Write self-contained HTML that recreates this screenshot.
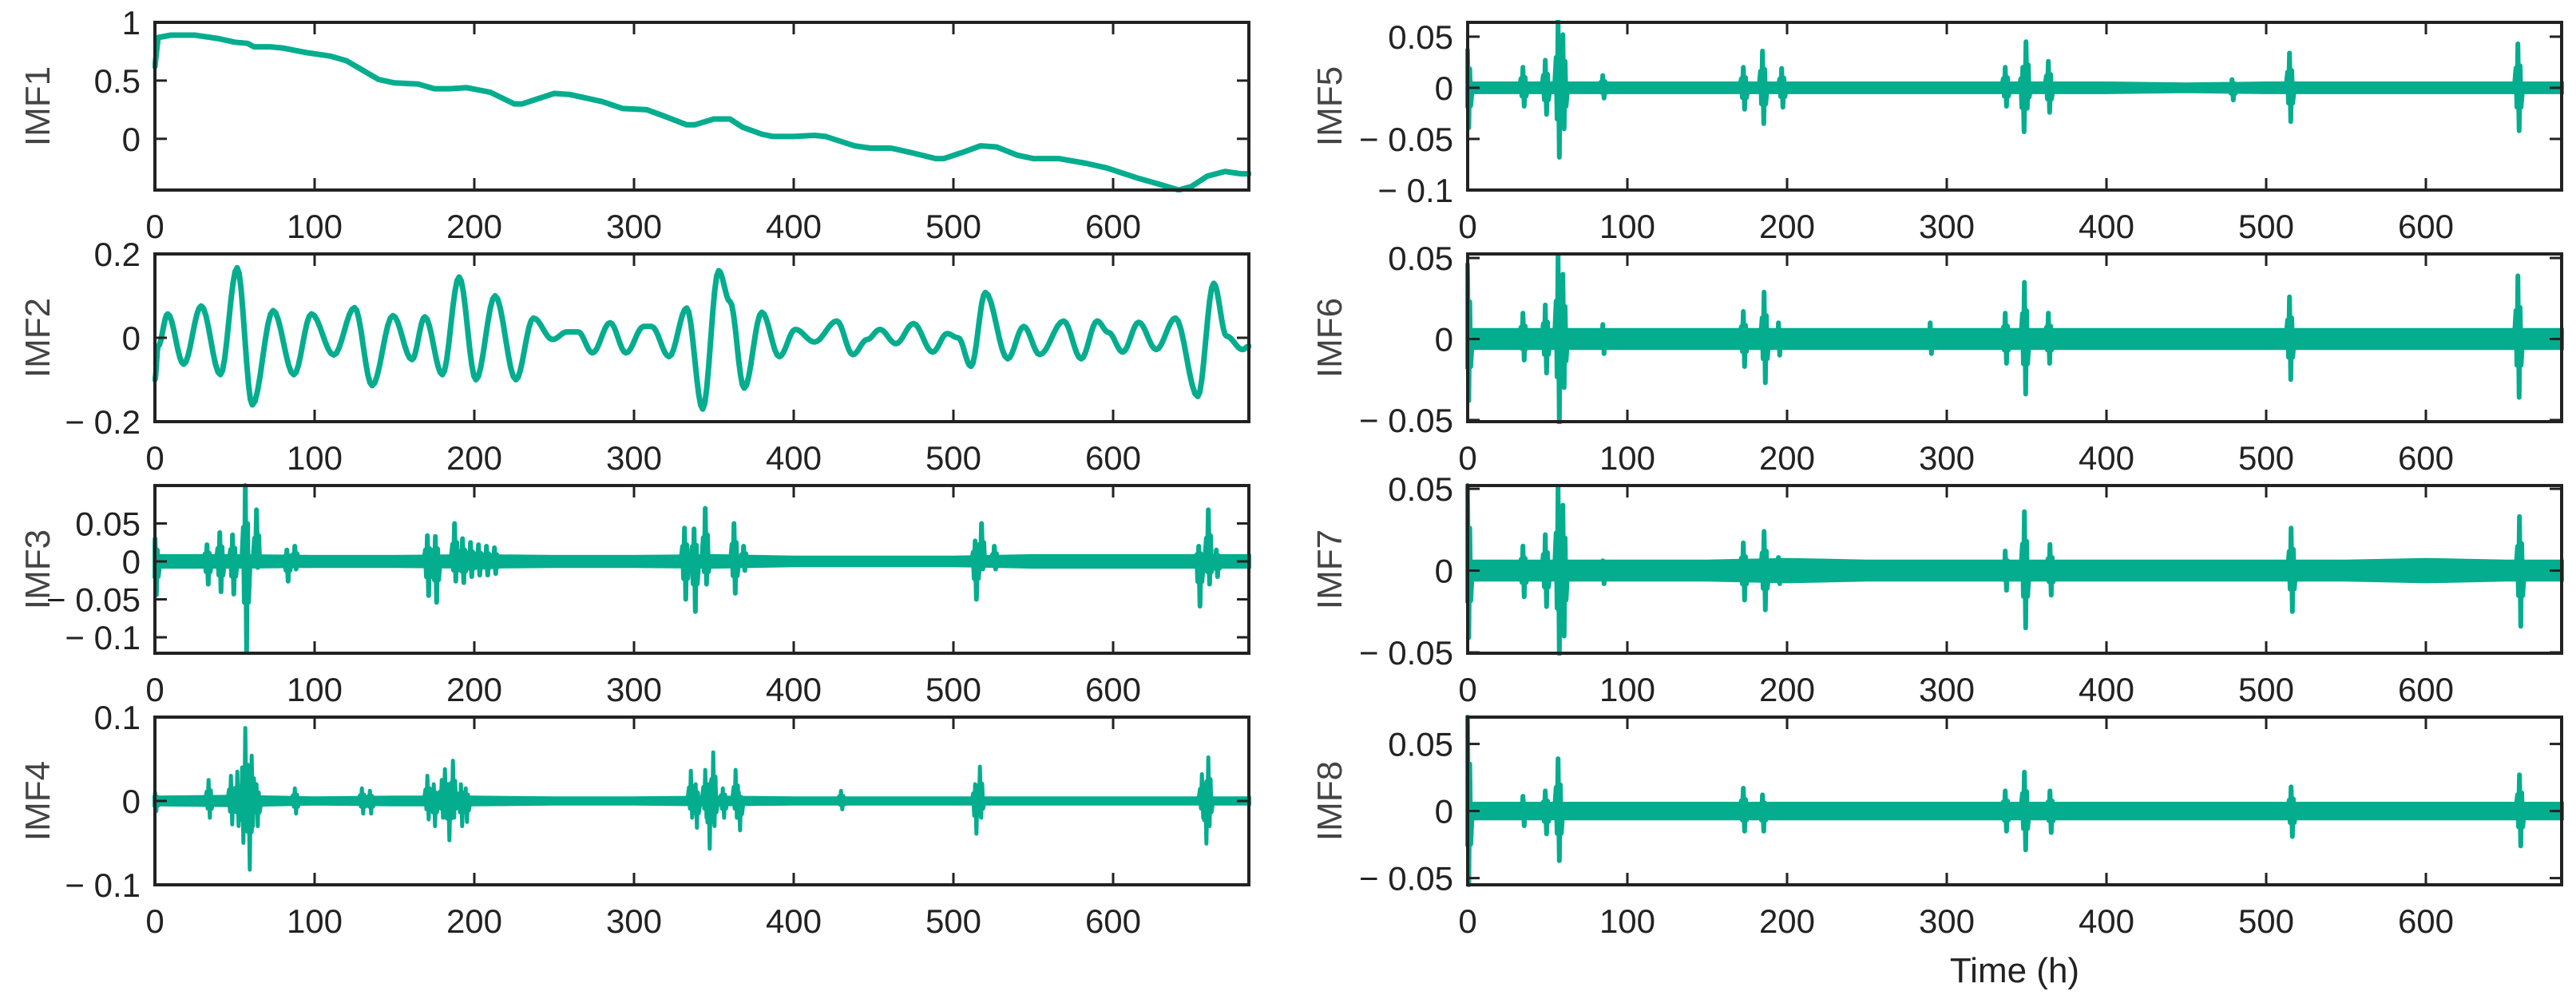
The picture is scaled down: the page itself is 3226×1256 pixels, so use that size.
<!DOCTYPE html>
<html><head><meta charset="utf-8"><style>
html,body{margin:0;padding:0;background:#fff;}
svg{display:block;font-family:"Liberation Sans",Arial,sans-serif;}
</style></head><body>
<svg id="fig" width="3226" height="1256" viewBox="0 0 3226 1256"></svg>
<script>
// ---------- data ----------
const xTicks = [0,100,200,300,400,500,600];
const imf1T = [0,2,10,25,40,50,58,62,72,80,95,110,120,130,140,150,165,175,185,195,210,225,230,250,260,280,293,308,318,333,338,350,360,368,380,387,400,413,420,438,448,461,474,489,494,507,517,527,540,550,566,583,596,616,629,641,649,659,670,680,685];
const imf1V = [0.62,0.87,0.89,0.89,0.86,0.83,0.82,0.79,0.79,0.78,0.74,0.71,0.67,0.59,0.51,0.48,0.47,0.43,0.43,0.44,0.40,0.30,0.30,0.39,0.38,0.32,0.26,0.25,0.20,0.12,0.12,0.17,0.17,0.10,0.04,0.02,0.02,0.03,0.02,-0.06,-0.08,-0.08,-0.12,-0.17,-0.17,-0.11,-0.06,-0.07,-0.14,-0.17,-0.17,-0.21,-0.25,-0.34,-0.39,-0.44,-0.41,-0.32,-0.28,-0.30,-0.30];
const imf2T = [0,2,8,18,29,41,51.5,61,74,87,98,112,125,136,149,161,169,180,190.5,201,213,226,237,249,258,265,274,285,295,306,311,322,333,343,353,360,369,380,391,401,413,427,437,446,454,464,475,487,496,503,511,520,534,544,554,569,580,590,597,606,616,627,639,653,663,671,681,685];
const imf2V = [-0.10,-0.02,0.057,-0.063,0.076,-0.088,0.167,-0.16,0.065,-0.088,0.057,-0.041,0.072,-0.114,0.053,-0.052,0.05,-0.088,0.145,-0.10,0.10,-0.10,0.047,-0.004,0.014,0.014,-0.036,0.036,-0.036,0.027,0.027,-0.045,0.071,-0.17,0.16,0.087,-0.12,0.061,-0.045,0.02,-0.01,0.04,-0.04,-0.004,0.02,-0.014,0.034,-0.034,0.01,0.0,-0.068,0.108,-0.05,0.027,-0.04,0.04,-0.05,0.04,0.013,-0.034,0.037,-0.028,0.047,-0.14,0.13,0.004,-0.028,-0.02];
// noise envelope (half-width) sampled every 50 h, t = 0..700
const envT = [0,50,100,150,200,250,300,350,400,450,500,550,600,650,700];
const imf3Env = [0.008,0.008,0.007,0.007,0.008,0.007,0.007,0.008,0.006,0.006,0.006,0.008,0.008,0.008,0.008];
const imf4Env = [0.005,0.006,0.004,0.005,0.005,0.004,0.004,0.005,0.004,0.004,0.004,0.004,0.004,0.004,0.004];
const imf5Env = [0.005,0.005,0.005,0.005,0.005,0.005,0.005,0.005,0.005,0.004,0.005,0.005,0.005,0.005,0.005];
const imf6Env = [0.006,0.006,0.006,0.006,0.006,0.006,0.006,0.006,0.006,0.006,0.006,0.006,0.006,0.006,0.006];
const imf7Env = [0.006,0.006,0.006,0.006,0.007,0.006,0.006,0.006,0.006,0.006,0.006,0.006,0.007,0.006,0.006];
const imf8Env = [0.006,0.006,0.006,0.006,0.006,0.006,0.006,0.006,0.006,0.006,0.006,0.006,0.006,0.006,0.006];
// bursts: time, max, min
const imf3SpT = [0.5,33,41,49,57,64,83,88,171,176,188,193,198,203,208,213,332,338,345,363,369,514,518,526,654,660,665];
const imf3SpHi = [0.03,0.022,0.038,0.035,0.10,0.068,0.015,0.02,0.034,0.033,0.05,0.03,0.025,0.022,0.02,0.018,0.044,0.043,0.07,0.05,0.02,0.027,0.05,0.02,0.02,0.068,0.015];
const imf3SpLo = [-0.044,-0.03,-0.04,-0.043,-0.12,-0.008,-0.026,-0.01,-0.045,-0.054,-0.026,-0.028,-0.02,-0.018,-0.018,-0.016,-0.05,-0.066,-0.03,-0.042,-0.012,-0.05,-0.01,-0.01,-0.059,-0.03,-0.02];
const imf4SpT = [0.5,34,48,52,55,57,59,61,64,88,130,135,171,175,180,182,184,187,192,195,336,339,345,347,350,356,364,366,430,514,517,656,658,660];
const imf4SpHi = [0.01,0.025,0.03,0.035,0.04,0.087,0.03,0.054,0.02,0.015,0.015,0.012,0.03,0.02,0.025,0.038,0.02,0.048,0.02,0.015,0.036,0.02,0.037,0.02,0.058,0.015,0.037,0.01,0.012,0.02,0.041,0.032,0.02,0.052];
const imf4SpLo = [-0.012,-0.02,-0.028,-0.03,-0.05,-0.03,-0.082,-0.03,-0.03,-0.015,-0.015,-0.015,-0.022,-0.03,-0.02,-0.02,-0.047,-0.02,-0.03,-0.025,-0.02,-0.032,-0.02,-0.057,-0.03,-0.02,-0.02,-0.035,-0.01,-0.039,-0.02,-0.02,-0.051,-0.03];
const imf5SpT = [0.3,35,49,57,60,85,173,185,197,337,348,350,364,479,515,658];
const imf5SpHi = [0.037,0.02,0.027,0.066,0.052,0.012,0.02,0.036,0.019,0.02,0.02,0.045,0.026,0.008,0.034,0.043];
const imf5SpLo = [-0.039,-0.018,-0.026,-0.068,-0.04,-0.01,-0.021,-0.035,-0.019,-0.018,-0.043,-0.02,-0.024,-0.012,-0.033,-0.042];
const imf6SpT = [0.3,35,49,57,60,85,173,186,195,290,337,349,364,515,658];
const imf6SpHi = [0.046,0.016,0.021,0.052,0.04,0.009,0.017,0.029,0.01,0.01,0.016,0.035,0.016,0.026,0.039];
const imf6SpLo = [-0.038,-0.013,-0.021,-0.052,-0.03,-0.009,-0.017,-0.027,-0.01,-0.009,-0.015,-0.034,-0.015,-0.025,-0.036];
const imf7SpT = [0.3,35,49,57,60,85,173,186,195,337,349,365,516,659];
const imf7SpHi = [0.052,0.015,0.022,0.051,0.04,0.006,0.017,0.024,0.008,0.012,0.036,0.016,0.026,0.033];
const imf7SpLo = [-0.041,-0.016,-0.022,-0.051,-0.04,-0.008,-0.018,-0.024,-0.008,-0.012,-0.035,-0.015,-0.025,-0.034];
const imf8SpT = [0.3,35,49,57,173,185,337,349,365,516,659];
const imf8SpHi = [0.07,0.011,0.015,0.039,0.017,0.012,0.015,0.029,0.015,0.018,0.027];
const imf8SpLo = [-0.055,-0.011,-0.017,-0.037,-0.015,-0.015,-0.015,-0.029,-0.016,-0.019,-0.026];

// ---------- drawing ----------
const NS = "http://www.w3.org/2000/svg";
const svg = document.getElementById('fig');
const COLOR = "#05ad8f";
const W = 1370, H = 210, XMAX = 685;
function mk(tag, attrs, parent){ const e=document.createElementNS(NS,tag); for(const k in attrs) e.setAttribute(k,attrs[k]); (parent||svg).appendChild(e); return e; }
function fmt(v){ if(v===0) return "0"; const s=String(Math.abs(v)); return v<0 ? "\u2212 "+s : s; }

function panel(cfg){
  const g = mk('g',{});
  
  
  const x0=cfg.x, y0=cfg.y;
  const xs = t => x0 + t/XMAX*W;
  const ys = v => y0 + (cfg.ymax - v)/(cfg.ymax-cfg.ymin)*H;
  const clipId = 'clip-'+cfg.name;
  const cp = mk('clipPath',{id:clipId}, g);
  mk('rect',{x:x0-3,y:y0-3,width:W+6,height:H+6}, cp);
  const data = mk('g',{'clip-path':'url(#'+clipId+')'}, g);
  
  
  if(cfg.env){
    let pts=[];
    for(let i=0;i<envT.length;i++) pts.push(xs(envT[i]).toFixed(1)+','+ys(cfg.env[i]).toFixed(1));
    for(let i=envT.length-1;i>=0;i--) pts.push(xs(envT[i]).toFixed(1)+','+ys(-cfg.env[i]).toFixed(1));
    const band = mk('polygon',{points:pts.join(' '),fill:COLOR,stroke:COLOR,'stroke-width':3,'stroke-linejoin':'round'}, data);
    
    
  }
  if(cfg.spT){
    for(let i=0;i<cfg.spT.length;i++){
      const t=cfg.spT[i], hi=cfg.spHi[i], lo=cfg.spLo[i];
      const d = `M${xs(t-2.6).toFixed(1)},${ys(0).toFixed(1)} L${xs(t-1.6).toFixed(1)},${ys(hi*0.45).toFixed(1)} L${xs(t-1.0).toFixed(1)},${ys(lo*0.45).toFixed(1)} L${xs(t-0.4).toFixed(1)},${ys(hi).toFixed(1)} L${xs(t+0.4).toFixed(1)},${ys(lo).toFixed(1)} L${xs(t+1.0).toFixed(1)},${ys(hi*0.5).toFixed(1)} L${xs(t+1.6).toFixed(1)},${ys(lo*0.45).toFixed(1)} L${xs(t+2.6).toFixed(1)},${ys(0).toFixed(1)}`;
      const p = mk('path',{d:d,fill:COLOR,stroke:COLOR,'stroke-width':cfg.sw||6,'stroke-linejoin':'round','stroke-linecap':'round'}, data);
      
      
    }
  }
  if(cfg.lineT){
    let pts=[];
    if(cfg.cosine){
      for(let i=0;i<cfg.lineT.length-1;i++){
        const ta=cfg.lineT[i], tb=cfg.lineT[i+1], va=cfg.lineV[i], vb=cfg.lineV[i+1];
        for(let k=0;k<8;k++){ const f=k/8, w=(1-Math.cos(Math.PI*f))/2; pts.push(xs(ta+(tb-ta)*f).toFixed(1)+','+ys(va+(vb-va)*w).toFixed(1)); }
      }
      const n=cfg.lineT.length-1; pts.push(xs(cfg.lineT[n]).toFixed(1)+','+ys(cfg.lineV[n]).toFixed(1));
    } else {
      for(let i=0;i<cfg.lineT.length;i++) pts.push(xs(cfg.lineT[i]).toFixed(1)+','+ys(cfg.lineV[i]).toFixed(1));
    }
    const pl = mk('polyline',{points:pts.join(' '),fill:'none',stroke:COLOR,'stroke-width':7,'stroke-linejoin':'round','stroke-linecap':'round'}, data);
    
    
  }
  // frame
  const fr = mk('rect',{x:x0,y:y0,width:W,height:H,fill:'none',stroke:'#222','stroke-width':4}, g);
  
  
  for(const t of xTicks){
    const x=xs(t);
    mk('line',{x1:x,y1:y0+H,x2:x,y2:y0+H-15,stroke:'#222','stroke-width':3}, g);
    mk('line',{x1:x,y1:y0,x2:x,y2:y0+15,stroke:'#222','stroke-width':3}, g);
    const tx = mk('text',{x:x,y:y0+H+60,'text-anchor':'middle','font-size':42,fill:'#222'}, g);
    tx.textContent = t;
    
    
  }
  for(const v of cfg.yTicks){
    const y=ys(v);
    mk('line',{x1:x0,y1:y,x2:x0+15,y2:y,stroke:'#222','stroke-width':3}, g);
    mk('line',{x1:x0+W,y1:y,x2:x0+W-15,y2:y,stroke:'#222','stroke-width':3}, g);
    const ty = mk('text',{x:x0-18,y:y+15,'text-anchor':'end','font-size':42,fill:'#222'}, g);
    ty.textContent = fmt(v);
    
    
  }
  const lx = cfg.labelX, ly = y0+H/2;
  const lab = mk('text',{x:lx,y:ly,'text-anchor':'middle','font-size':44,fill:'#444',transform:`rotate(-90 ${lx} ${ly})`}, g);
  lab.textContent = cfg.label;
  
  
}

const L=194, R=1838, rows=[28,318,608,898];
panel({name:'imf1',label:'IMF1',x:L,y:rows[0],ymin:-0.44,ymax:1,yTicks:[0,0.5,1],lineT:imf1T,lineV:imf1V,labelX:62});
panel({name:'imf2',label:'IMF2',x:L,y:rows[1],ymin:-0.2,ymax:0.2,yTicks:[-0.2,0,0.2],lineT:imf2T,lineV:imf2V,cosine:true,labelX:62});
panel({name:'imf3',label:'IMF3',x:L,y:rows[2],ymin:-0.121,ymax:0.1,yTicks:[-0.1,-0.05,0,0.05],env:imf3Env,spT:imf3SpT,spHi:imf3SpHi,spLo:imf3SpLo,sw:6,labelX:62});
panel({name:'imf4',label:'IMF4',x:L,y:rows[3],ymin:-0.1,ymax:0.1,yTicks:[-0.1,0,0.1],env:imf4Env,spT:imf4SpT,spHi:imf4SpHi,spLo:imf4SpLo,sw:5,labelX:62});
panel({name:'imf5',label:'IMF5',x:R,y:rows[0],ymin:-0.1,ymax:0.064,yTicks:[-0.1,-0.05,0,0.05],env:imf5Env,spT:imf5SpT,spHi:imf5SpHi,spLo:imf5SpLo,labelX:1680});
panel({name:'imf6',label:'IMF6',x:R,y:rows[1],ymin:-0.051,ymax:0.0525,yTicks:[-0.05,0,0.05],env:imf6Env,spT:imf6SpT,spHi:imf6SpHi,spLo:imf6SpLo,labelX:1680});
panel({name:'imf7',label:'IMF7',x:R,y:rows[2],ymin:-0.0505,ymax:0.052,yTicks:[-0.05,0,0.05],env:imf7Env,spT:imf7SpT,spHi:imf7SpHi,spLo:imf7SpLo,labelX:1680});
panel({name:'imf8',label:'IMF8',x:R,y:rows[3],ymin:-0.055,ymax:0.07,yTicks:[-0.05,0,0.05],env:imf8Env,spT:imf8SpT,spHi:imf8SpHi,spLo:imf8SpLo,labelX:1680});

const xt = mk('text',{x:R+W/2,y:1230,'text-anchor':'middle','font-size':44,fill:'#222'});
xt.textContent = 'Time (h)';


</script>
</body></html>
